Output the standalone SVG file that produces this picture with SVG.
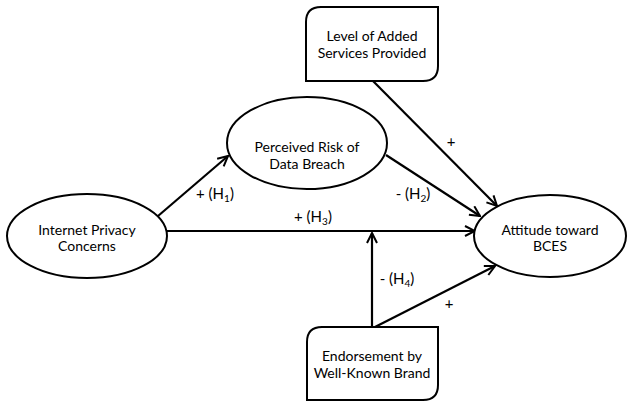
<svg xmlns="http://www.w3.org/2000/svg" width="628" height="401" viewBox="0 0 628 401">
<style>
.shape{fill:#fff;stroke:#000;stroke-width:2}
.edge{fill:none;stroke:#000;stroke-width:2.2}
text{font-family:Lato,"Liberation Sans",sans-serif;font-size:14px;fill:#000;text-anchor:middle}
.lbl{font-size:15px}
.sub{font-size:10px}
</style>
<defs>
<marker id="arr" viewBox="0 0 12 12" refX="11" refY="6" markerWidth="12" markerHeight="12" markerUnits="userSpaceOnUse" orient="auto">
<path d="M1,1 L11,6 L1,11" fill="none" stroke="#000" stroke-width="2"/>
</marker>
</defs>
<g id="edges">
<line class="edge" x1="158" y1="216" x2="228" y2="156" marker-end="url(#arr)"/>
<line class="edge" x1="167" y1="231" x2="475" y2="231" marker-end="url(#arr)"/>
<line class="edge" x1="386" y1="155" x2="480" y2="216" marker-end="url(#arr)"/>
<line class="edge" x1="373" y1="81" x2="497" y2="206" marker-end="url(#arr)"/>
<line class="edge" x1="372" y1="327" x2="372" y2="233" marker-end="url(#arr)"/>
<line class="edge" x1="375" y1="327" x2="495" y2="266" marker-end="url(#arr)"/>
</g>
<g id="labels">
<text class="lbl" x="215" y="199">+ (H<tspan class="sub" dy="3">1</tspan><tspan dy="-3">)</tspan></text>
<text class="lbl" x="313" y="222">+ (H<tspan class="sub" dy="3">3</tspan><tspan dy="-3">)</tspan></text>
<text class="lbl" x="413" y="199">- (H<tspan class="sub" dy="3">2</tspan><tspan dy="-3">)</tspan></text>
<text class="lbl" x="397" y="284">-  (H<tspan class="sub" dy="3">4</tspan><tspan dy="-3">)</tspan></text>
<text class="lbl" x="451" y="147">+</text>
<text class="lbl" x="449" y="309">+</text>
</g>
<g id="level-added-services">
<path class="shape" d="M321,7 H438 V66 Q438,81 423,81 H306 V22 Q306,7 321,7 Z"/>
<text x="372" y="41">Level of Added</text>
<text x="372" y="58">Services Provided</text>
</g>
<g id="perceived-risk">
<ellipse class="shape" cx="307" cy="143" rx="80" ry="46"/>
<text x="307" y="152">Perceived Risk of</text>
<text x="307" y="169">Data Breach</text>
</g>
<g id="internet-privacy">
<ellipse class="shape" cx="87" cy="236" rx="80" ry="42"/>
<text x="87" y="235">Internet Privacy</text>
<text x="87" y="251">Concerns</text>
</g>
<g id="attitude">
<ellipse class="shape" cx="550" cy="236" rx="76" ry="41"/>
<text x="550" y="235">Attitude toward</text>
<text x="550" y="251">BCES</text>
</g>
<g id="endorsement">
<path class="shape" d="M322,327 H438 V385 Q438,400 423,400 H307 V342 Q307,327 322,327 Z"/>
<text x="372" y="361">Endorsement  by</text>
<text x="372" y="378">Well-Known Brand</text>
</g>
</svg>
